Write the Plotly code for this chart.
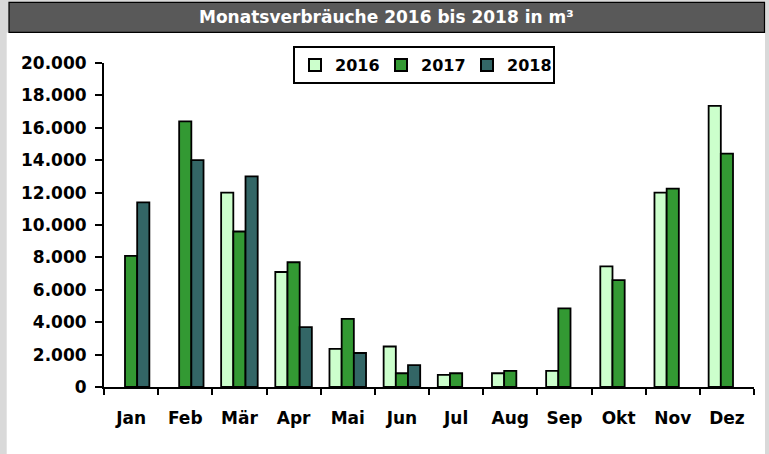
import plotly.graph_objects as go

months = ["Jan", "Feb", "Mär", "Apr", "Mai", "Jun", "Jul", "Aug", "Sep", "Okt", "Nov", "Dez"]
v2016 = [None, None, 12000, 7100, 2350, 2500, 750, 850, 1000, 7450, 12000, 17350]
v2017 = [8100, 16400, 9600, 7700, 4200, 850, 850, 1000, 4850, 6600, 12250, 14400]
v2018 = [11400, 14000, 13000, 3700, 2100, 1350, None, None, None, None, None, None]
years = ["2016", "2017", "2018"]
colors = ["#CCFFCC", "#339933", "#336666"]
y_ticks = list(range(0, 20001, 2000))

FONT = "DejaVu Sans"
W, H = 769, 454
L, R, T, B = 104, 15, 63, 67
pw, ph = W - L - R, H - T - B


def px(x):
    return (x - L) / pw


def py(y):
    return (H - B - y) / ph


fig = go.Figure()
for name, vals, col in zip(years, [v2016, v2017, v2018], colors):
    fig.add_trace(go.Bar(
        x=months, y=vals, name=name,
        marker=dict(color=col, line=dict(color="black", width=1.8)),
    ))

fig.update_layout(
    width=W, height=H,
    barmode="group", bargap=0.325, bargroupgap=0,
    paper_bgcolor="#D9D9D9", plot_bgcolor="white",
    separators=",.",
    margin=dict(l=L, r=R, t=T, b=B, autoexpand=False),
    font=dict(family=FONT, size=17, color="black", weight="bold"),
    showlegend=True,
    legend=dict(
        orientation="h", x=px(293), y=py(46), xanchor="left", yanchor="top",
        bgcolor="white", bordercolor="black", borderwidth=2,
        font=dict(family=FONT, size=16, color="black", weight="bold"),
        entrywidth=41, entrywidthmode="pixels",
        itemsizing="constant", tracegroupgap=0,
    ),
    xaxis=dict(
        showline=True, linecolor="black", linewidth=2,
        ticks="outside", tickson="boundaries", ticklen=6, tickwidth=2, tickcolor="black",
        tickfont=dict(family=FONT, size=17, color="black", weight="bold"),
        ticklabelstandoff=15,
        showgrid=False, zeroline=False,
    ),
    yaxis=dict(
        range=[0, 20000], tickvals=y_ticks, tickformat=",.0f",
        showline=True, linecolor="black", linewidth=2,
        ticks="outside", ticklen=7, tickwidth=2, tickcolor="black",
        tickfont=dict(family=FONT, size=17, color="black", weight="bold"),
        ticklabelstandoff=5,
        showgrid=False, zeroline=False,
    ),
    shapes=[
        dict(type="rect", xref="paper", yref="paper", layer="below",
             x0=px(6.7), x1=px(765), y0=py(454), y1=py(32.5),
             fillcolor="white", line=dict(width=0)),
        dict(type="rect", xref="paper", yref="paper", layer="above",
             x0=px(9), x1=px(764.5), y0=py(32.3), y1=py(2.3),
             fillcolor="#595959", line=dict(color="black", width=1.2)),
    ],
    annotations=[
        dict(text="Monatsverbräuche 2016 bis 2018 in m³", xref="paper", yref="paper",
             x=px(386), y=py(17.3), xanchor="center", yanchor="middle", showarrow=False,
             font=dict(family=FONT, size=17, color="white", weight="bold")),
    ],
)

fig.write_html(
    "out.html",
    config={"displayModeBar": False},
    post_script="document.body.style.margin='0px';document.body.style.overflow='hidden';",
)
